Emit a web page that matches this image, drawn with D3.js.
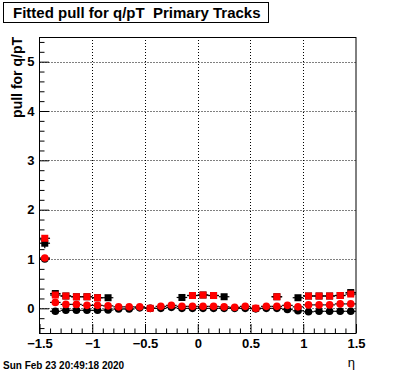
<!DOCTYPE html>
<html>
<head>
<meta charset="utf-8">
<script src="https://cdn.jsdelivr.net/npm/d3@7"></script>
<style>
  body { margin: 0; background: #fff; }
  text { font-family: "Liberation Sans", Arial, sans-serif; }
</style>
</head>
<body>
<script>
// eta bin centres (30 bins of 0.1)
let etaBins = [-1.45, -1.35, -1.25, -1.15, -1.05, -0.95, -0.85, -0.75, -0.65, -0.55,
               -0.45, -0.35, -0.25, -0.15, -0.05, 0.05, 0.15, 0.25, 0.35, 0.45,
               0.55, 0.65, 0.75, 0.85, 0.95, 1.05, 1.15, 1.25, 1.35, 1.45];

// black squares
let blackSq = [1.32, 0.30, 0.25, 0.235, 0.235, 0.215, 0.215, null, null, null,
               null, null, null, 0.22, 0.26, 0.27, 0.26, 0.235, null, null,
               null, null, 0.235, null, 0.215, 0.25, 0.25, 0.25, 0.26, 0.32];
let blackSqErr = [0.1, 0.02, 0.02, 0.02, 0.02, 0.02, 0.02, 0, 0, 0,
                  0, 0, 0, 0.02, 0.02, 0.02, 0.02, 0.02, 0, 0,
                  0, 0, 0.02, 0, 0.02, 0.02, 0.02, 0.02, 0.02, 0.02];
// red squares
let redSq = [1.42, 0.27, 0.25, 0.235, 0.235, 0.215, null, null, null, null,
             0.0, null, null, null, 0.26, 0.27, 0.26, null, null, null,
             0.0, null, 0.235, null, null, 0.25, 0.25, 0.25, 0.26, 0.29];
let redSqErr = [0.05, 0.02, 0.02, 0.02, 0.02, 0.02, 0, 0, 0, 0,
                0.01, 0, 0, 0, 0.02, 0.02, 0.02, 0, 0, 0,
                0.01, 0, 0.02, 0, 0, 0.02, 0.02, 0.02, 0.02, 0.02];
// black circles
let blackCirc = [1.0, -0.06, -0.04, -0.04, -0.04, -0.04, -0.035, -0.015, -0.015, 0.01,
                 0.0, 0.0, 0.02, 0.0, 0.0, 0.0, 0.0, 0.0, 0.0, 0.0,
                 -0.01, 0.0, 0.0, -0.025, -0.05, -0.07, -0.06, -0.06, -0.06, -0.06];
// red circles
let redCirc = [1.02, 0.12, 0.08, 0.08, 0.06, 0.06, 0.05, 0.03, 0.03, 0.03,
               0.0, 0.04, 0.06, 0.04, 0.04, 0.04, 0.04, 0.03, 0.02, 0.04,
               0.0, 0.04, 0.04, 0.06, 0.03, 0.07, 0.07, 0.07, 0.09, 0.09];

let xTicks = [-1.5, -1, -0.5, 0, 0.5, 1, 1.5];
let yTicks = [0, 1, 2, 3, 4, 5];
let titleText = "Fitted pull for q/pT  Primary Tracks";
let yTitle = "pull for q/pT";
let xTitle = "\u03b7";
let dateText = "Sun Feb 23 20:49:18 2020";

let W = 396, H = 372;
let svg = d3.select("body").append("svg")
    .attr("width", W)
    .attr("height", H);

let fLeft = 39.5, fRight = 356, fTop = 37, fBottom = 333;
let x = d3.scaleLinear().domain([-1.5, 1.5]).range([fLeft, fRight]);
let y = d3.scaleLinear().domain([-0.5, 5.5]).range([fBottom, fTop]);

// grid (dotted)
let grid = svg.append("g");
grid.selectAll("line.gx").data(xTicks.filter(d => d > -1.5 && d < 1.5)).enter()
    .append("line")
    .attr("x1", d => Math.round(x(d)) + 0.5).attr("x2", d => Math.round(x(d)) + 0.5)
    .attr("y1", fTop).attr("y2", fBottom)
    .attr("stroke", "#000").attr("stroke-dasharray", "1,2");
grid.selectAll("line.gy").data(yTicks).enter()
    .append("line")
    .attr("x1", fLeft).attr("x2", fRight)
    .attr("y1", d => Math.round(y(d)) + 0.5).attr("y2", d => Math.round(y(d)) + 0.5)
    .attr("stroke", "#000").attr("stroke-dasharray", "1,2");

// axes, ticks pointing inward like ROOT
let fmt = d3.format("");
let xMinor = d3.range(-15, 16).map(d => d / 10).filter(d => xTicks.indexOf(d) < 0);
let yMinor = d3.range(-2, 28).map(d => d / 5).filter(d => yTicks.indexOf(d) < 0);

svg.append("g").attr("transform", `translate(0,${fBottom})`)
    .call(d3.axisBottom(x).tickValues(xTicks).tickSize(-9).tickPadding(6).tickFormat(fmt));
svg.append("g").attr("transform", `translate(0,${fBottom})`)
    .call(d3.axisBottom(x).tickValues(xMinor).tickSize(-4.5).tickFormat(""));
svg.append("g").attr("transform", `translate(${fLeft},0)`)
    .call(d3.axisLeft(y).tickValues(yTicks).tickSize(-9.5).tickPadding(5).tickFormat(fmt));
svg.append("g").attr("transform", `translate(${fLeft},0)`)
    .call(d3.axisLeft(y).tickValues(yMinor).tickSize(-5).tickFormat(""));

svg.selectAll(".domain").remove();
svg.selectAll(".tick line").attr("stroke", "#000");
svg.selectAll(".tick text")
    .attr("fill", "#000")
    .style("font-family", "'Liberation Sans', Arial, sans-serif")
    .style("font-weight", "bold")
    .style("font-size", "13px");

// frame
svg.append("rect")
    .attr("x", fLeft).attr("y", fTop + 0.5)
    .attr("width", fRight - fLeft).attr("height", fBottom - fTop)
    .attr("fill", "none").attr("stroke", "#000");

// data series
let series = [
    {vals: blackSq, err: blackSqErr, color: "#000", shape: "sq"},
    {vals: redSq, err: redSqErr, color: "#ff0000", shape: "sq"},
    {vals: blackCirc, err: null, color: "#000", shape: "ci"},
    {vals: redCirc, err: null, color: "#ff0000", shape: "ci"}
];

let plot = svg.append("g");
series.forEach(s => {
    let pts = etaBins.map((e, i) => ({e: e, v: s.vals[i], er: s.err ? s.err[i] : 0}))
        .filter(p => p.v !== null);
    let g = plot.append("g");
    // error bars (black)
    g.selectAll("line.h").data(pts).enter().append("line")
        .attr("x1", p => x(p.e - 0.05)).attr("x2", p => x(p.e + 0.05))
        .attr("y1", p => y(p.v)).attr("y2", p => y(p.v))
        .attr("stroke", "#000").attr("stroke-width", 1.2);
    g.selectAll("line.v").data(pts.filter(p => p.er > 0)).enter().append("line")
        .attr("x1", p => x(p.e)).attr("x2", p => x(p.e))
        .attr("y1", p => y(p.v - p.er)).attr("y2", p => y(p.v + p.er))
        .attr("stroke", "#000").attr("stroke-width", 1.2);
    if (s.shape == "sq") {
        g.selectAll("rect").data(pts).enter().append("rect")
            .attr("x", p => x(p.e) - 3.5).attr("y", p => y(p.v) - 3.5)
            .attr("width", 7).attr("height", 7)
            .attr("fill", s.color);
    } else {
        g.selectAll("circle").data(pts).enter().append("circle")
            .attr("cx", p => x(p.e)).attr("cy", p => y(p.v))
            .attr("r", 3.8)
            .attr("fill", s.color);
    }
});

// title box
svg.append("rect")
    .attr("x", 3.5).attr("y", 2.5).attr("width", 265).attr("height", 20)
    .attr("fill", "#fff").attr("stroke", "#000");
svg.append("text")
    .attr("x", 13).attr("y", 18)
    .style("font-weight", "bold").style("font-size", "15px")
    .style("white-space", "pre")
    .text(titleText);

// axis titles
svg.append("text")
    .attr("transform", `translate(22,${fTop}) rotate(-90)`)
    .attr("text-anchor", "end")
    .style("font-weight", "bold").style("font-size", "14px")
    .text(yTitle);
svg.append("text")
    .attr("x", 355).attr("y", 367)
    .attr("text-anchor", "end")
    .style("font-size", "13px")
    .text(xTitle);

// date stamp
svg.append("text")
    .attr("x", 3).attr("y", 369)
    .style("font-weight", "bold").style("font-size", "10px")
    .text(dateText);
</script>
</body>
</html>
